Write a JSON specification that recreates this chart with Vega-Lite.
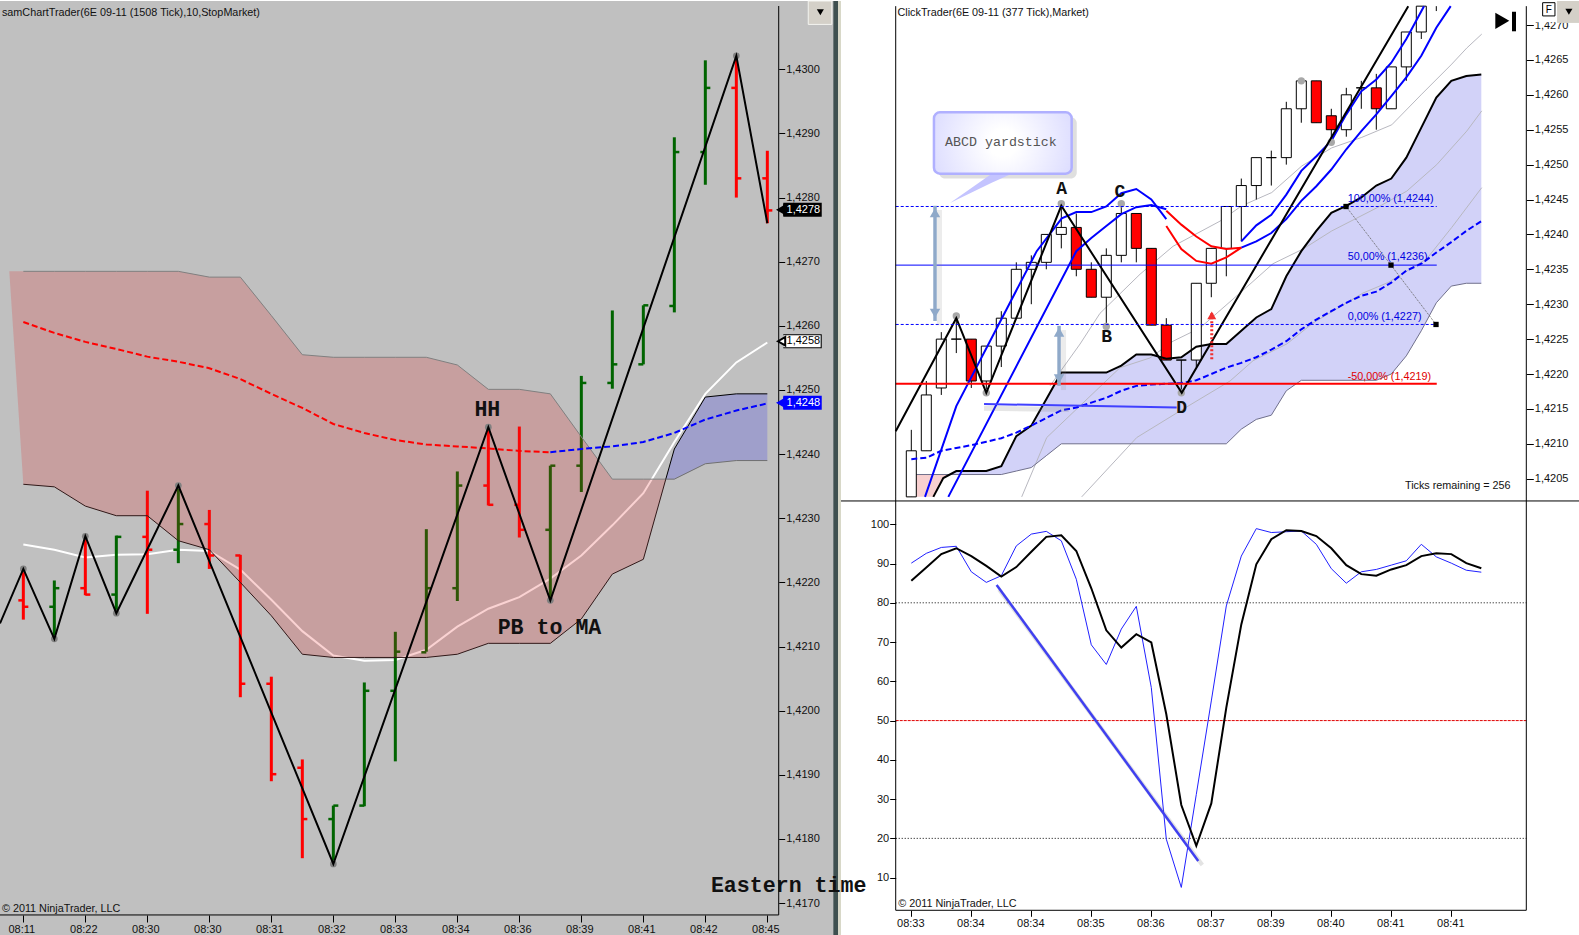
{"$schema":"https://vega.github.io/schema/vega-lite/v6.json","padding":{"left":-4,"top":0,"right":0,"bottom":0},"background":"white","spacing":0,"bounds":"flush","resolve":{"scale":{"color":"independent"}},
"config":{"view":{"stroke":null},"axis":{"grid":false,"domain":false,"labelFont":"Liberation Sans","labelFontSize":11,"labelColor":"#111","tickColor":"#000","title":null},"text":{"font":"Liberation Sans","fontSize":10.8,"align":"left","baseline":"middle"}},
"datasets":{
"lbars":[{"i":1,"o":1.42172,"h":1.42221,"l":1.42142,"c":1.42162,"d":"down"},{"i":2,"o":1.42162,"h":1.42203,"l":1.42112,"c":1.42191,"d":"up"},{"i":3,"o":1.42191,"h":1.42272,"l":1.4218,"c":1.42181,"d":"down"},{"i":4,"o":1.42181,"h":1.42273,"l":1.42152,"c":1.42271,"d":"up"},{"i":5,"o":1.42271,"h":1.42343,"l":1.42151,"c":1.42251,"d":"down"},{"i":6,"o":1.42251,"h":1.42351,"l":1.4223,"c":1.42291,"d":"up"},{"i":7,"o":1.42291,"h":1.42313,"l":1.42221,"c":1.42242,"d":"down"},{"i":8,"o":1.42242,"h":1.42243,"l":1.42021,"c":1.42042,"d":"down"},{"i":9,"o":1.42042,"h":1.42053,"l":1.4189,"c":1.41901,"d":"down"},{"i":10,"o":1.41911,"h":1.41924,"l":1.4177,"c":1.41831,"d":"down"},{"i":11,"o":1.41831,"h":1.41852,"l":1.41761,"c":1.41852,"d":"up"},{"i":12,"o":1.41852,"h":1.42044,"l":1.41851,"c":1.42031,"d":"up"},{"i":13,"o":1.42031,"h":1.42123,"l":1.41921,"c":1.42092,"d":"up"},{"i":14,"o":1.42091,"h":1.42283,"l":1.42092,"c":1.42191,"d":"up"},{"i":15,"o":1.42191,"h":1.42373,"l":1.42171,"c":1.42351,"d":"up"},{"i":16,"o":1.42351,"h":1.42442,"l":1.4232,"c":1.42321,"d":"down"},{"i":17,"o":1.42321,"h":1.42443,"l":1.4227,"c":1.42282,"d":"down"},{"i":18,"o":1.42282,"h":1.42382,"l":1.42172,"c":1.42382,"d":"up"},{"i":19,"o":1.42382,"h":1.42522,"l":1.42341,"c":1.42511,"d":"up"},{"i":20,"o":1.42511,"h":1.42624,"l":1.42502,"c":1.4254,"d":"up"},{"i":21,"o":1.4254,"h":1.42632,"l":1.4254,"c":1.42632,"d":"up"},{"i":22,"o":1.42631,"h":1.42894,"l":1.42621,"c":1.42871,"d":"up"},{"i":23,"o":1.42871,"h":1.43014,"l":1.4282,"c":1.42971,"d":"up"},{"i":24,"o":1.42971,"h":1.43021,"l":1.428,"c":1.4283,"d":"down"},{"i":25,"o":1.4283,"h":1.42873,"l":1.4276,"c":1.4278,"d":"down"}],
"lcloud":[{"i":0.547,"a":1.42685,"b":1.42685},{"i":1,"a":1.42685,"b":1.42353},{"i":2,"a":1.42685,"b":1.42349},{"i":3,"a":1.42685,"b":1.42319},{"i":4,"a":1.42685,"b":1.42304},{"i":5,"a":1.42685,"b":1.42304},{"i":6,"a":1.42685,"b":1.42265},{"i":7,"a":1.42676,"b":1.42251},{"i":8,"a":1.42676,"b":1.422},{"i":9,"a":1.42616,"b":1.42148},{"i":10,"a":1.42555,"b":1.42088},{"i":11,"a":1.42551,"b":1.42083},{"i":12,"a":1.42551,"b":1.42083},{"i":13,"a":1.42551,"b":1.42083},{"i":14,"a":1.42551,"b":1.42083},{"i":15,"a":1.42539,"b":1.42088},{"i":16,"a":1.42501,"b":1.42105},{"i":17,"a":1.42501,"b":1.42105},{"i":18,"a":1.42494,"b":1.42105},{"i":19,"a":1.42427,"b":1.42143},{"i":20,"a":1.42361,"b":1.42213},{"i":21,"a":1.42361,"b":1.42236},{"i":21.725,"a":1.42361,"b":1.42361}],
"lcloud2":[{"i":21.725,"a":1.42361,"b":1.42361},{"i":22,"a":1.42408,"b":1.42361},{"i":23,"a":1.42489,"b":1.42385},{"i":24,"a":1.42494,"b":1.4239},{"i":25,"a":1.42494,"b":1.4239}],
"lred":[{"i":1,"p":1.42606},{"i":2,"p":1.42589},{"i":3,"p":1.42575},{"i":4,"p":1.42564},{"i":5,"p":1.42552},{"i":6,"p":1.42544},{"i":7,"p":1.42534},{"i":8,"p":1.42517},{"i":9,"p":1.42494},{"i":10,"p":1.42472},{"i":11,"p":1.42447},{"i":12,"p":1.42433},{"i":13,"p":1.42422},{"i":14,"p":1.42415},{"i":15,"p":1.42412},{"i":16,"p":1.42409},{"i":17,"p":1.42405},{"i":18,"p":1.42403}],
"lblue":[{"i":18,"p":1.42403},{"i":19,"p":1.42408},{"i":20,"p":1.42412},{"i":21,"p":1.42419},{"i":22,"p":1.42433},{"i":23,"p":1.42454},{"i":24,"p":1.42468},{"i":25,"p":1.42479}],
"lwhite":[{"i":1,"p":1.42259},{"i":2,"p":1.42251},{"i":3,"p":1.42239},{"i":4,"p":1.42243},{"i":5,"p":1.42244},{"i":6,"p":1.42251},{"i":7,"p":1.42249},{"i":8,"p":1.4222},{"i":9,"p":1.42173},{"i":10,"p":1.42124},{"i":11,"p":1.42086},{"i":12,"p":1.42078},{"i":13,"p":1.42079},{"i":14,"p":1.42095},{"i":15,"p":1.42131},{"i":16,"p":1.42159},{"i":17,"p":1.42177},{"i":18,"p":1.42206},{"i":19,"p":1.42242},{"i":20,"p":1.42289},{"i":21,"p":1.42339},{"i":22,"p":1.42419},{"i":23,"p":1.42494},{"i":24,"p":1.42543},{"i":25,"p":1.42574}],
"lzig":[{"i":0.2474,"p":1.42136},{"i":1,"p":1.42221},{"i":2,"p":1.42112},{"i":3,"p":1.42272},{"i":4,"p":1.42152},{"i":6,"p":1.42351},{"i":11,"p":1.41761},{"i":16,"p":1.42442},{"i":18,"p":1.42172},{"i":24,"p":1.43021},{"i":25,"p":1.4276}],
"lflags":[{"p":1.42781,"t":"1,4278","s":"last","a":25.515,"b":26.755,"c":26.72,"d":25.46,"e":25.62},{"p":1.42576,"t":"1,4258","s":"ma","a":25.515,"b":26.755,"c":26.72,"d":25.46,"e":25.62},{"p":1.4248,"t":"1,4248","s":"mid","a":25.515,"b":26.755,"c":26.72,"d":25.46,"e":25.62}],
"cand":[{"j":1,"o":1.42024,"h":1.4212,"l":1.42024,"c":1.4209,"d":"up"},{"j":2,"o":1.4209,"h":1.4219,"l":1.4209,"c":1.4217,"d":"up"},{"j":3,"o":1.4218,"h":1.4226,"l":1.4217,"c":1.4225,"d":"up"},{"j":4,"o":1.4225,"h":1.4228,"l":1.4223,"c":1.4225,"d":"up"},{"j":5,"o":1.4225,"h":1.4225,"l":1.4218,"c":1.4219,"d":"down"},{"j":6,"o":1.4219,"h":1.4224,"l":1.4217,"c":1.4224,"d":"up"},{"j":7,"o":1.4224,"h":1.4229,"l":1.4221,"c":1.4228,"d":"up"},{"j":8,"o":1.4228,"h":1.4236,"l":1.4228,"c":1.4235,"d":"up"},{"j":9,"o":1.4235,"h":1.4237,"l":1.423,"c":1.4236,"d":"up"},{"j":10,"o":1.4236,"h":1.424,"l":1.4235,"c":1.424,"d":"up"},{"j":11,"o":1.424,"h":1.4244,"l":1.4238,"c":1.4241,"d":"up"},{"j":12,"o":1.4241,"h":1.4243,"l":1.4234,"c":1.4235,"d":"down"},{"j":13,"o":1.4235,"h":1.4236,"l":1.4231,"c":1.4231,"d":"down"},{"j":14,"o":1.4231,"h":1.4238,"l":1.4227,"c":1.4237,"d":"up"},{"j":15,"o":1.4237,"h":1.4244,"l":1.4236,"c":1.4243,"d":"up"},{"j":16,"o":1.4243,"h":1.4243,"l":1.4236,"c":1.4238,"d":"down"},{"j":17,"o":1.4238,"h":1.4238,"l":1.4227,"c":1.4227,"d":"down"},{"j":18,"o":1.4227,"h":1.4228,"l":1.4222,"c":1.4222,"d":"down"},{"j":19,"o":1.4222,"h":1.4222,"l":1.4217,"c":1.4222,"d":"up"},{"j":20,"o":1.4222,"h":1.4233,"l":1.4221,"c":1.4233,"d":"up"},{"j":21,"o":1.4233,"h":1.4238,"l":1.4231,"c":1.4238,"d":"up"},{"j":22,"o":1.4238,"h":1.4244,"l":1.4234,"c":1.4244,"d":"up"},{"j":23,"o":1.4244,"h":1.4248,"l":1.4239,"c":1.4247,"d":"up"},{"j":24,"o":1.4247,"h":1.4251,"l":1.4245,"c":1.4251,"d":"up"},{"j":25,"o":1.4251,"h":1.4252,"l":1.4247,"c":1.4251,"d":"up"},{"j":26,"o":1.4251,"h":1.4259,"l":1.425,"c":1.4258,"d":"up"},{"j":27,"o":1.4258,"h":1.4262,"l":1.4256,"c":1.4262,"d":"up"},{"j":28,"o":1.4262,"h":1.4262,"l":1.4256,"c":1.4256,"d":"down"},{"j":29,"o":1.4257,"h":1.4258,"l":1.4253,"c":1.4255,"d":"down"},{"j":30,"o":1.4255,"h":1.4261,"l":1.4254,"c":1.426,"d":"up"},{"j":31,"o":1.4261,"h":1.4262,"l":1.4258,"c":1.4261,"d":"up"},{"j":32,"o":1.4261,"h":1.4263,"l":1.4255,"c":1.4258,"d":"down"},{"j":33,"o":1.4258,"h":1.4264,"l":1.4258,"c":1.4264,"d":"up"},{"j":34,"o":1.4264,"h":1.4269,"l":1.4262,"c":1.4269,"d":"up"},{"j":35,"o":1.4269,"h":1.42727,"l":1.4268,"c":1.42727,"d":"up"},{"j":36,"h":1.42727,"l":1.4272,"d":"up"}],
"band":[{"j":3.6,"a":1.42056,"b":1.42056},{"j":4,"a":1.42061,"b":1.42056},{"j":5,"a":1.42061,"b":1.42056},{"j":6,"a":1.42061,"b":1.42056},{"j":7,"a":1.42068,"b":1.42056},{"j":8,"a":1.42111,"b":1.42061},{"j":9,"a":1.42126,"b":1.42066},{"j":10,"a":1.42164,"b":1.42083},{"j":11,"a":1.42202,"b":1.421},{"j":12,"a":1.42202,"b":1.421},{"j":13,"a":1.42202,"b":1.421},{"j":14,"a":1.42202,"b":1.421},{"j":15,"a":1.42212,"b":1.421},{"j":16,"a":1.42228,"b":1.421},{"j":17,"a":1.42228,"b":1.421},{"j":18,"a":1.42222,"b":1.421},{"j":19,"a":1.42224,"b":1.421},{"j":20,"a":1.42239,"b":1.421},{"j":21,"a":1.42243,"b":1.421},{"j":22,"a":1.42243,"b":1.421},{"j":23,"a":1.42262,"b":1.42121},{"j":24,"a":1.42281,"b":1.42135},{"j":25,"a":1.42293,"b":1.42141},{"j":26,"a":1.4234,"b":1.42176},{"j":27,"a":1.42376,"b":1.42191},{"j":28,"a":1.42405,"b":1.42191},{"j":29,"a":1.42431,"b":1.42191},{"j":30,"a":1.42441,"b":1.42191},{"j":31,"a":1.42453,"b":1.42191},{"j":32,"a":1.4247,"b":1.42191},{"j":33,"a":1.4248,"b":1.422},{"j":34,"a":1.4251,"b":1.42226},{"j":35,"a":1.42553,"b":1.42262},{"j":36,"a":1.42596,"b":1.42302},{"j":37,"a":1.4262,"b":1.42326},{"j":38,"a":1.42627,"b":1.4233},{"j":39,"a":1.42629,"b":1.4233}],
"pink":[{"j":0.693,"a":1.42056,"b":1.42024},{"j":2.467,"a":1.42056,"b":1.42024},{"j":3.133,"a":1.42056,"b":1.42051},{"j":3.6,"a":1.42056,"b":1.42056}],
"envTop":[{"j":2.467,"p":1.42024},{"j":3.133,"p":1.42051},{"j":4,"p":1.42061},{"j":5,"p":1.42061},{"j":6,"p":1.42061},{"j":7,"p":1.42068},{"j":8,"p":1.42111},{"j":9,"p":1.42126},{"j":10,"p":1.42164},{"j":11,"p":1.42202},{"j":14,"p":1.42202},{"j":15,"p":1.42212},{"j":16,"p":1.42228},{"j":17,"p":1.42228},{"j":18,"p":1.42222},{"j":19,"p":1.42224},{"j":20,"p":1.42239},{"j":21,"p":1.42243},{"j":22,"p":1.42243},{"j":23,"p":1.42262},{"j":24,"p":1.42281},{"j":25,"p":1.42293},{"j":26,"p":1.4234},{"j":27,"p":1.42376},{"j":28,"p":1.42405},{"j":29,"p":1.42431},{"j":30,"p":1.42441},{"j":31,"p":1.42453},{"j":32,"p":1.4247},{"j":33,"p":1.4248},{"j":34,"p":1.4251},{"j":35,"p":1.42553},{"j":36,"p":1.42596},{"j":37,"p":1.4262},{"j":38,"p":1.42627},{"j":39,"p":1.42629}],
"envBot":[{"j":1,"p":1.42056},{"j":7,"p":1.42056},{"j":8,"p":1.42061},{"j":9,"p":1.42066},{"j":10,"p":1.42083},{"j":11,"p":1.421},{"j":22,"p":1.421},{"j":23,"p":1.42121},{"j":24,"p":1.42135},{"j":25,"p":1.42141},{"j":26,"p":1.42176},{"j":27,"p":1.42191},{"j":32,"p":1.42191},{"j":33,"p":1.422},{"j":34,"p":1.42226},{"j":35,"p":1.42262},{"j":36,"p":1.42302},{"j":37,"p":1.42326},{"j":38,"p":1.4233},{"j":39,"p":1.4233}],
"mid":[{"j":1,"p":1.42078},{"j":2,"p":1.4208},{"j":3,"p":1.4209},{"j":4,"p":1.42094},{"j":5,"p":1.42098},{"j":6,"p":1.42103},{"j":7,"p":1.42108},{"j":8,"p":1.42116},{"j":9,"p":1.42126},{"j":10,"p":1.42137},{"j":11,"p":1.42148},{"j":12,"p":1.42152},{"j":13,"p":1.42159},{"j":14,"p":1.42166},{"j":15,"p":1.42176},{"j":16,"p":1.42183},{"j":17,"p":1.42185},{"j":18,"p":1.42186},{"j":19,"p":1.42187},{"j":20,"p":1.42191},{"j":21,"p":1.422},{"j":22,"p":1.42209},{"j":23,"p":1.42216},{"j":24,"p":1.42224},{"j":25,"p":1.42235},{"j":26,"p":1.42247},{"j":27,"p":1.42264},{"j":28,"p":1.42278},{"j":29,"p":1.4229},{"j":30,"p":1.42302},{"j":31,"p":1.42312},{"j":32,"p":1.42318},{"j":33,"p":1.42331},{"j":34,"p":1.42348},{"j":35,"p":1.42358},{"j":36,"p":1.42374},{"j":37,"p":1.42389},{"j":38,"p":1.42405},{"j":39,"p":1.42419}],
"blueLines":[{"k":"a1","j":1.913,"p":1.42024},{"k":"a1","j":4,"p":1.42154},{"k":"a1","j":9.36,"p":1.42376},{"k":"a1","j":11.03,"p":1.42423},{"k":"a1","j":12,"p":1.42432},{"k":"a1","j":13,"p":1.42432},{"k":"a1","j":14,"p":1.4244},{"k":"a1","j":15,"p":1.42459},{"k":"a1","j":16,"p":1.42465},{"k":"a1","j":17,"p":1.4245},{"k":"a1","j":18,"p":1.42422},{"k":"b1","j":3.467,"p":1.42024},{"k":"b1","j":12,"p":1.42376},{"k":"b1","j":13,"p":1.42395},{"k":"b1","j":14,"p":1.42412},{"k":"b1","j":15,"p":1.42429},{"k":"b1","j":16,"p":1.42439},{"k":"b1","j":17,"p":1.42442},{"k":"b1","j":18,"p":1.42436},{"k":"a2","j":23,"p":1.4239},{"k":"a2","j":24,"p":1.42413},{"k":"a2","j":25,"p":1.42428},{"k":"a2","j":26,"p":1.42457},{"k":"a2","j":27,"p":1.42491},{"k":"a2","j":28,"p":1.42512},{"k":"a2","j":29,"p":1.42534},{"k":"a2","j":30,"p":1.42572},{"k":"a2","j":31,"p":1.42605},{"k":"a2","j":32,"p":1.42622},{"k":"a2","j":33,"p":1.42646},{"k":"a2","j":34,"p":1.4268},{"k":"a2","j":35.18,"p":1.42727},{"k":"b2","j":23,"p":1.42381},{"k":"b2","j":24,"p":1.4239},{"k":"b2","j":25,"p":1.42402},{"k":"b2","j":26,"p":1.42422},{"k":"b2","j":27,"p":1.42448},{"k":"b2","j":28,"p":1.42469},{"k":"b2","j":29,"p":1.42493},{"k":"b2","j":30,"p":1.42522},{"k":"b2","j":31,"p":1.42548},{"k":"b2","j":32,"p":1.42572},{"k":"b2","j":33,"p":1.42598},{"k":"b2","j":34,"p":1.42625},{"k":"b2","j":35,"p":1.42656},{"k":"b2","j":36,"p":1.42696},{"k":"b2","j":36.96,"p":1.42727}],
"redLines":[{"k":"r1","j":18,"p":1.42434},{"k":"r1","j":19,"p":1.42414},{"k":"r1","j":20,"p":1.42397},{"k":"r1","j":21,"p":1.42383},{"k":"r1","j":22,"p":1.42379},{"k":"r1","j":23,"p":1.42381},{"k":"r2","j":18,"p":1.42412},{"k":"r2","j":19,"p":1.42379},{"k":"r2","j":20,"p":1.42362},{"k":"r2","j":21,"p":1.42358},{"k":"r2","j":22,"p":1.42367},{"k":"r2","j":23,"p":1.42381}],
"grayLines":[{"k":"g1","j":10.25,"p":1.42183},{"k":"g1","j":12.25,"p":1.42243},{"k":"g1","j":13.58,"p":1.42287},{"k":"g1","j":16.25,"p":1.42343},{"k":"g1","j":18.45,"p":1.42383},{"k":"g1","j":21.58,"p":1.42419},{"k":"g1","j":23.03,"p":1.42441},{"k":"g1","j":25.03,"p":1.4246},{"k":"g1","j":27.03,"p":1.42498},{"k":"g1","j":29.03,"p":1.42524},{"k":"g1","j":31.03,"p":1.42539},{"k":"g1","j":33.03,"p":1.42557},{"k":"g1","j":35.03,"p":1.42601},{"k":"g1","j":37.03,"p":1.42644},{"k":"g1","j":38.03,"p":1.42667},{"k":"g1","j":39.03,"p":1.42687},{"k":"g2","j":8.36,"p":1.42024},{"k":"g2","j":10.03,"p":1.42109},{"k":"g2","j":14.91,"p":1.42209},{"k":"g2","j":16.91,"p":1.42223},{"k":"g2","j":18.45,"p":1.42247},{"k":"g2","j":20.25,"p":1.42266},{"k":"g2","j":22.91,"p":1.42316},{"k":"g2","j":25.11,"p":1.42358},{"k":"g2","j":27.11,"p":1.42379},{"k":"g2","j":29.03,"p":1.42405},{"k":"g2","j":32.03,"p":1.42438},{"k":"g2","j":34.03,"p":1.42462},{"k":"g2","j":36.03,"p":1.425},{"k":"g2","j":38.03,"p":1.42548},{"k":"g2","j":39.03,"p":1.42577},{"k":"g3","j":12.36,"p":1.42024},{"k":"g3","j":16.03,"p":1.42109},{"k":"g3","j":18.91,"p":1.42147},{"k":"g3","j":22.25,"p":1.4219},{"k":"g3","j":23.78,"p":1.42219},{"k":"g3","j":26.03,"p":1.42243},{"k":"g3","j":27.78,"p":1.42273},{"k":"g3","j":31.11,"p":1.42316},{"k":"g3","j":32.78,"p":1.42331},{"k":"g3","j":35.36,"p":1.42365},{"k":"g3","j":37.03,"p":1.4241},{"k":"g3","j":39.03,"p":1.42467}],
"rzig":[{"j":-0.04,"p":1.42118},{"j":4,"p":1.4228},{"j":6,"p":1.42173},{"j":11,"p":1.42441},{"j":19.03,"p":1.42173},{"j":34.13,"p":1.42727}],
"rdots":[{"j":4,"p":1.42283},{"j":6,"p":1.42173},{"j":11,"p":1.42444},{"j":14,"p":1.42268},{"j":15,"p":1.42444},{"j":19,"p":1.42173},{"j":27,"p":1.4262},{"j":29,"p":1.42532}],
"levels":[{"p":1.4244,"t":"100,00% (1,4244)","tp":1.42451,"j":-0.04,"j2":36.03,"tj":30.09,"s":"dash"},{"p":1.42356,"t":"50,00% (1,4236)","tp":1.42367,"j":-0.04,"j2":36.03,"tj":30.09,"s":"solid"},{"p":1.42271,"t":"0,00% (1,4227)","tp":1.42282,"j":-0.04,"j2":36.03,"tj":30.09,"s":"dash"}],
"squares":[{"j":29.98,"p":1.4244},{"j":32.98,"p":1.42356},{"j":35.98,"p":1.42271}],
"stochK":[{"j":1,"v":90.1},{"j":2,"v":92.6},{"j":3,"v":94.1},{"j":4,"v":94.4},{"j":5,"v":87.9},{"j":6,"v":85.2},{"j":7,"v":86.9},{"j":8,"v":94.5},{"j":9,"v":97.5},{"j":10,"v":98.2},{"j":11,"v":95.8},{"j":12,"v":86},{"j":13,"v":69.3},{"j":14,"v":64.3},{"j":15,"v":73.3},{"j":16,"v":79.1},{"j":17,"v":58.4},{"j":18,"v":19.8},{"j":19,"v":7.5},{"j":20,"v":31.2},{"j":21,"v":55},{"j":22,"v":79.2},{"j":23,"v":91.9},{"j":24,"v":98.9},{"j":25,"v":97.9},{"j":26,"v":98.1},{"j":27,"v":98.3},{"j":28,"v":94.9},{"j":29,"v":88.7},{"j":30,"v":85},{"j":31,"v":87.9},{"j":32,"v":88.5},{"j":33,"v":89.6},{"j":34,"v":90.7},{"j":35,"v":94.9},{"j":36,"v":91.7},{"j":37,"v":90.1},{"j":38,"v":88.3},{"j":39,"v":87.8}],
"stochD":[{"j":1,"v":85.6},{"j":2,"v":89},{"j":3,"v":92.4},{"j":4,"v":93.9},{"j":5,"v":91.9},{"j":6,"v":89.4},{"j":7,"v":86.7},{"j":8,"v":89.1},{"j":9,"v":93},{"j":10,"v":96.8},{"j":11,"v":97.2},{"j":12,"v":93.2},{"j":13,"v":83.7},{"j":14,"v":73},{"j":15,"v":68.6},{"j":16,"v":72},{"j":17,"v":69.9},{"j":18,"v":51.6},{"j":19,"v":28.5},{"j":20,"v":18.1},{"j":21,"v":28.9},{"j":22,"v":53.3},{"j":23,"v":74.5},{"j":24,"v":89.8},{"j":25,"v":96.2},{"j":26,"v":98.5},{"j":27,"v":98.3},{"j":28,"v":97},{"j":29,"v":93.9},{"j":30,"v":89.6},{"j":31,"v":87.3},{"j":32,"v":86.9},{"j":33,"v":88.5},{"j":34,"v":89.6},{"j":35,"v":91.9},{"j":36,"v":92.6},{"j":37,"v":92.4},{"j":38,"v":90.1},{"j":39,"v":88.8}]
},
"hconcat":[
{"width":841,"height":935,"view":{"fill":"#c0c0c0","stroke":null},
"encoding":{"x":{"field":"i","type":"quantitative","title":null,"scale":{"domain":[0.2474,27.3764],"nice":false,"zero":false},"axis":{"orient":"bottom","offset":-21,"tickSize":7,"labelPadding":1,"labelOffset":-2,"values":[1,3,5,7,9,11,13,15,17,19,21,23,25],"labelExpr":"['08:11','08:22','08:30','08:30','08:31','08:32','08:33','08:34','08:36','08:39','08:41','08:42','08:45'][(datum.value-1)/2]"}},
"y":{"field":"p","type":"quantitative","title":null,"scale":{"domain":[1.416487,1.431065],"nice":false,"zero":false},"axis":{"orient":"right","offset":-62.3,"tickSize":6,"labelPadding":1,"values":[1.417,1.418,1.419,1.42,1.421,1.422,1.423,1.424,1.425,1.426,1.427,1.428,1.429,1.43],"labelExpr":"replace(format(datum.value,'.4f'),'.',',')"}}},
"layer":[
{"data":{"values":[{"i":27.13,"i2":27.28,"p":1.416487,"p2":1.431065,"s":"dark"},{"i":27.28,"i2":27.3764,"p":1.416487,"p2":1.431065,"s":"light"}]},"mark":{"type":"rect"},"encoding":{"x2":{"field":"i2"},"y2":{"field":"p2"},"color":{"condition":{"test":"datum.s==='dark'","value":"#3f5050"},"value":"#d8d8c8"}}},
{"data":{"name":"lwhite"},"mark":{"type":"line","color":"#ffffff","strokeWidth":2}},
{"data":{"name":"lbars"},"mark":{"type":"rule","strokeWidth":3},"encoding":{"y":{"field":"h","type":"quantitative"},"y2":{"field":"l"},"color":{"field":"d","type":"nominal","scale":{"domain":["up","down"],"range":["#006400","#ff0000"]},"legend":null}}},
{"data":{"name":"lbars"},"mark":{"type":"rule","strokeWidth":2.5,"xOffset":-5,"x2Offset":0},"encoding":{"x2":{"field":"i"},"y":{"field":"o","type":"quantitative"},"color":{"field":"d","type":"nominal","legend":null}}},
{"data":{"name":"lbars"},"mark":{"type":"rule","strokeWidth":2.5,"xOffset":0,"x2Offset":5},"encoding":{"x2":{"field":"i"},"y":{"field":"c","type":"quantitative"},"color":{"field":"d","type":"nominal","legend":null}}},
{"data":{"name":"lcloud"},"mark":{"type":"area","color":"#e82020","opacity":0.2},"encoding":{"y":{"field":"a","type":"quantitative"},"y2":{"field":"b"}}},
{"data":{"name":"lcloud2"},"mark":{"type":"area","color":"#2020fc","opacity":0.2},"encoding":{"y":{"field":"a","type":"quantitative"},"y2":{"field":"b"}}},
{"data":{"name":"lcloud"},"transform":[{"filter":"datum.i>=1"}],"mark":{"type":"line","color":"#808080","strokeWidth":1},"encoding":{"y":{"field":"a","type":"quantitative"}}},
{"data":{"name":"lcloud"},"transform":[{"filter":"datum.i>=1"}],"mark":{"type":"line","color":"#301818","strokeWidth":1},"encoding":{"y":{"field":"b","type":"quantitative"}}},
{"data":{"name":"lcloud2"},"mark":{"type":"line","color":"#000000","strokeWidth":1},"encoding":{"y":{"field":"a","type":"quantitative"}}},
{"data":{"name":"lcloud2"},"mark":{"type":"line","color":"#707070","strokeWidth":1},"encoding":{"y":{"field":"b","type":"quantitative"}}},
{"data":{"name":"lred"},"mark":{"type":"line","color":"#ff0000","strokeWidth":2,"strokeDash":[6,3]}},
{"data":{"name":"lblue"},"mark":{"type":"line","color":"#0000ff","strokeWidth":2,"strokeDash":[6,3]}},
{"data":{"name":"lzig"},"transform":[{"filter":"datum.i>=1 && datum.i<25"}],"mark":{"type":"point","filled":true,"color":"#808080","size":45,"opacity":1}},
{"data":{"name":"lzig"},"mark":{"type":"line","color":"#000000","strokeWidth":2}},
{"data":{"values":[{"i":25.367,"p":1.430987,"p2":1.416815}]},"mark":{"type":"rule","color":"#000","strokeWidth":1},"encoding":{"y2":{"field":"p2"}}},
{"data":{"values":[{"i":0.2474,"i2":25.367,"p":1.416815}]},"mark":{"type":"rule","color":"#000","strokeWidth":1},"encoding":{"x2":{"field":"i2"}}},
{"data":{"name":"lflags"},"mark":{"type":"rule","strokeWidth":14},"encoding":{"x":{"field":"a","type":"quantitative"},"x2":{"field":"b"},"color":{"condition":{"test":"datum.s==='mid'","value":"#0000ff"},"value":"#000"}}},
{"data":{"name":"lflags"},"mark":{"type":"rule","strokeWidth":12},"encoding":{"x":{"field":"a","type":"quantitative"},"x2":{"field":"c"},"color":{"condition":[{"test":"datum.s==='mid'","value":"#0000ff"},{"test":"datum.s==='ma'","value":"#fff"}],"value":"#000"}}},
{"data":{"name":"lflags"},"mark":{"type":"point","shape":"triangle-left","filled":true,"size":70,"opacity":1},"encoding":{"x":{"field":"d","type":"quantitative"},"color":{"condition":[{"test":"datum.s==='mid'","value":"#0000ff"},{"test":"datum.s==='ma'","value":"#fff"}],"value":"#000"},"stroke":{"condition":{"test":"datum.s==='mid'","value":"#0000ff"},"value":"#000"}}},
{"data":{"name":"lflags"},"mark":{"type":"text","fontSize":11},"encoding":{"x":{"field":"e","type":"quantitative"},"text":{"field":"t"},"color":{"condition":{"test":"datum.s==='ma'","value":"#000"},"value":"#fff"}}},
{"data":{"values":[{"i":26.32,"i2":27.08,"p":1.431065,"p2":1.4307}]},"mark":{"type":"rect","color":"#d4d0c8","stroke":"#f4f4f0","strokeWidth":1},"encoding":{"x2":{"field":"i2"},"y2":{"field":"p2"}}},
{"data":{"values":[{"i":26.71,"p":1.43089}]},"mark":{"type":"point","shape":"triangle-down","filled":true,"color":"#000","size":50,"opacity":1}},
{"data":{"values":[{"i":0.31,"p":1.43088,"t":"samChartTrader(6E 09-11 (1508 Tick),10,StopMarket)"},{"i":0.31,"p":1.41691,"t":"© 2011 NinjaTrader, LLC"}]},"mark":{"type":"text","color":"#111"},"encoding":{"text":{"field":"t"}}},
{"data":{"values":[{"i":15.55,"p":1.42469,"t":"HH"},{"i":16.3,"p":1.42129,"t":"PB to MA"},{"i":23.18,"p":1.41726,"t":"Eastern time"}]},"mark":{"type":"text","font":"Liberation Mono","fontWeight":"bold","fontSize":21.6,"color":"#111"},"encoding":{"text":{"field":"t"}}}
]},
{"vconcat":[
{"width":738,"height":496,
"encoding":{"x":{"field":"j","type":"quantitative","title":null,"scale":{"domain":[-3.687,45.513],"nice":false,"zero":false,"padding":0},"axis":null},
"y":{"field":"p","type":"quantitative","title":null,"scale":{"domain":[1.420238,1.427344],"nice":false,"zero":false},"axis":{"orient":"right","offset":-52.7,"tickSize":7,"labelPadding":1,"values":[1.4205,1.421,1.4215,1.422,1.4225,1.423,1.4235,1.424,1.4245,1.425,1.4255,1.426,1.4265,1.427],"labelExpr":"replace(format(datum.value,'.4f'),'.',',')"}}},
"layer":[
{"data":{"name":"pink"},"mark":{"type":"area","color":"#f8d0d0"},"encoding":{"y":{"field":"a","type":"quantitative"},"y2":{"field":"b"}}},
{"data":{"name":"band"},"mark":{"type":"area","color":"#d2d2f8"},"encoding":{"y":{"field":"a","type":"quantitative"},"y2":{"field":"b"}}},
{"data":{"name":"grayLines"},"mark":{"type":"line","color":"#b8b8c0","strokeWidth":1},"encoding":{"detail":{"field":"k"}}},
{"data":{"name":"envBot"},"mark":{"type":"line","color":"#70708c","strokeWidth":1}},
{"data":{"name":"cand"},"mark":{"type":"rule","color":"#000","strokeWidth":1},"encoding":{"y":{"field":"h","type":"quantitative"},"y2":{"field":"l"}}},
{"data":{"name":"cand"},"transform":[{"filter":"isValid(datum.o)"}],"mark":{"type":"bar","size":10,"stroke":"#000","strokeWidth":1},"encoding":{"y":{"field":"o","type":"quantitative"},"y2":{"field":"c"},"color":{"field":"d","type":"nominal","scale":{"domain":["up","down"],"range":["#ffffff","#ff0000"]},"legend":null}}},
{"data":{"name":"envTop"},"mark":{"type":"line","color":"#000","strokeWidth":2}},
{"data":{"name":"mid"},"mark":{"type":"line","color":"#0000ff","strokeWidth":2,"strokeDash":[6,3]}},
{"data":{"name":"blueLines"},"mark":{"type":"line","color":"#0000ff","strokeWidth":2},"encoding":{"detail":{"field":"k"}}},
{"data":{"name":"redLines"},"mark":{"type":"line","color":"#ff0000","strokeWidth":2},"encoding":{"detail":{"field":"k"}}},
{"data":{"name":"rdots"},"mark":{"type":"point","filled":true,"color":"#a8a8a8","size":55,"opacity":1}},
{"data":{"name":"rzig"},"mark":{"type":"line","color":"#000","strokeWidth":2}},
{"data":{"name":"levels"},"transform":[{"filter":"datum.s==='dash'"}],"mark":{"type":"rule","color":"#0000ff","strokeWidth":1,"strokeDash":[3,2]},"encoding":{"x2":{"field":"j2"}}},
{"data":{"name":"levels"},"transform":[{"filter":"datum.s==='solid'"}],"mark":{"type":"rule","color":"#0000ff","strokeWidth":1},"encoding":{"x2":{"field":"j2"}}},
{"data":{"values":[{"j":-0.04,"j2":36.03,"p":1.42186}]},"mark":{"type":"rule","color":"#ff0000","strokeWidth":2},"encoding":{"x2":{"field":"j2"}}},
{"data":{"name":"levels"},"mark":{"type":"text","color":"#0000e0"},"encoding":{"x":{"field":"tj","type":"quantitative"},"y":{"field":"tp","type":"quantitative"},"text":{"field":"t"}}},
{"data":{"values":[{"j":30.09,"p":1.42196,"t":"-50,00% (1,4219)"}]},"mark":{"type":"text","color":"#e00000"},"encoding":{"text":{"field":"t"}}},
{"data":{"name":"squares"},"mark":{"type":"line","color":"#666","strokeWidth":1,"strokeDash":[1,1]}},
{"data":{"name":"squares"},"mark":{"type":"square","color":"#000","size":28,"opacity":1}},
{"data":{"values":[{"j":2.85,"j2":12.03,"p":1.42568,"p2":1.4248}]},"mark":{"type":"rect","color":"#808080","opacity":0.25,"cornerRadius":6},"encoding":{"x2":{"field":"j2"},"y2":{"field":"p2"}}},
{"data":{"values":[{"j":3.58,"a":1.42445,"b":1.42445},{"j":6.36,"a":1.42487,"b":1.42474},{"j":7.69,"a":1.42487,"b":1.42487}]},"mark":{"type":"area","color":"#c4c4ff"},"encoding":{"y":{"field":"a","type":"quantitative"},"y2":{"field":"b"}}},
{"data":{"values":[{"j":2.51,"j2":11.69,"p":1.42575,"p2":1.42487}]},"mark":{"type":"rect","cornerRadius":6,"stroke":"#b0b0ff","strokeWidth":2.5,"fill":{"gradient":"radial","x1":0.5,"y1":0.5,"x2":0.5,"y2":0.5,"r1":0.1,"r2":0.7,"stops":[{"offset":0,"color":"#ffffff"},{"offset":1,"color":"#d0d0ff"}]}},"encoding":{"x2":{"field":"j2"},"y2":{"field":"p2"}}},
{"data":{"values":[{"j":3.25,"p":1.42532,"t":"ABCD yardstick"}]},"mark":{"type":"text","font":"Liberation Mono","fontSize":13.3,"color":"#555"},"encoding":{"text":{"field":"t"}}},
{"data":{"values":[{"j":2.88,"p":1.42435,"p2":1.4227},{"j":11.15,"p":1.42263,"p2":1.42177}]},"mark":{"type":"rule","color":"#808080","strokeWidth":5,"opacity":0.15},"encoding":{"y2":{"field":"p2"}}},
{"data":{"values":[{"j":2.58,"p":1.42441,"p2":1.42276},{"j":10.85,"p":1.42269,"p2":1.42183}]},"mark":{"type":"rule","color":"#8fa9c9","strokeWidth":3.5},"encoding":{"y2":{"field":"p2"}}},
{"data":{"values":[{"j":2.58,"p":1.42431},{"j":10.85,"p":1.4226}]},"mark":{"type":"point","shape":"triangle-up","filled":true,"color":"#8fa9c9","size":110,"opacity":1}},
{"data":{"values":[{"j":2.58,"p":1.42287},{"j":10.85,"p":1.42193}]},"mark":{"type":"point","shape":"triangle-down","filled":true,"color":"#8fa9c9","size":110,"opacity":1}},
{"data":{"values":[{"j":21.03,"p":1.42221,"p2":1.42287}]},"mark":{"type":"rule","color":"#f03030","strokeWidth":3,"strokeDash":[2,2]},"encoding":{"y2":{"field":"p2"}}},
{"data":{"values":[{"j":21.03,"p":1.42284}]},"mark":{"type":"point","shape":"triangle-up","filled":true,"color":"#f03030","size":80,"opacity":1}},
{"data":{"values":[{"j":5.85,"p":1.42151},{"j":11.5,"p":1.42149}]},"mark":{"type":"line","color":"#808080","strokeWidth":5,"opacity":0.2}},
{"data":{"values":[{"j":5.85,"p":1.42157},{"j":18.69,"p":1.42152}]},"mark":{"type":"line","color":"#4040ff","strokeWidth":2}},
{"data":{"values":[{"j":11.03,"p":1.42465,"t":"A"},{"j":14.91,"p":1.42461,"t":"C"},{"j":14.03,"p":1.42253,"t":"B"},{"j":19.03,"p":1.42151,"t":"D"}]},"mark":{"type":"text","align":"center","font":"Liberation Mono","fontWeight":"bold","fontSize":18,"color":"#111"},"encoding":{"text":{"field":"t"}}},
{"data":{"values":[{"j":33.91,"p":1.4204,"t":"Ticks remaining = 256"},{"j":0.08,"p":1.42717,"t":"ClickTrader(6E 09-11 (377 Tick),Market)"}]},"mark":{"type":"text","color":"#111"},"encoding":{"text":{"field":"t"}}},
{"data":{"values":[{"j":-0.04,"p":1.42727,"p2":1.420238},{"j":42,"p":1.42727,"p2":1.420238}]},"mark":{"type":"rule","color":"#000","strokeWidth":1},"encoding":{"y2":{"field":"p2"}}},
{"data":{"values":[{"j":40.4,"p":1.42706}]},"mark":{"type":"point","shape":"triangle-right","filled":true,"color":"#000","size":260,"opacity":1}},
{"data":{"values":[{"j":41.18,"p":1.42719,"p2":1.42691}]},"mark":{"type":"rule","color":"#000","strokeWidth":4},"encoding":{"y2":{"field":"p2"}}},
{"data":{"values":[{"j":42.1,"j2":45.513,"p":1.427344,"p2":1.42704}]},"mark":{"type":"rect","color":"#fff"},"encoding":{"x2":{"field":"j2"},"y2":{"field":"p2"}}},
{"data":{"values":[{"j":43.09,"j2":43.91,"p":1.42732,"p2":1.42713}]},"mark":{"type":"rect","color":"#fff","stroke":"#000","strokeWidth":1},"encoding":{"x2":{"field":"j2"},"y2":{"field":"p2"}}},
{"data":{"values":[{"j":43.5,"p":1.42722,"t":"F"}]},"mark":{"type":"text","align":"center","fontSize":10,"color":"#000"},"encoding":{"text":{"field":"t"}}},
{"data":{"values":[{"j":44.05,"j2":45.513,"p":1.427344,"p2":1.42703}]},"mark":{"type":"rect","color":"#d4d0c8"},"encoding":{"x2":{"field":"j2"},"y2":{"field":"p2"}}},
{"data":{"values":[{"j":44.84,"p":1.42719}]},"mark":{"type":"point","shape":"triangle-down","filled":true,"color":"#000","size":50,"opacity":1}}
]},
{"width":738,"height":439,
"encoding":{"x":{"field":"j","type":"quantitative","title":null,"scale":{"domain":[-3.687,45.513],"nice":false,"zero":false},"axis":{"orient":"bottom","offset":-25.7,"tickSize":6,"labelPadding":1,"labelOffset":-1,"values":[1,5,9,13,17,21,25,29,33,37],"labelExpr":"['08:33','08:34','08:34','08:35','08:36','08:37','08:39','08:40','08:41','08:41'][(datum.value-1)/4]"}},
"y":{"field":"v","type":"quantitative","title":null,"scale":{"domain":[-4.87,106.95],"nice":false,"zero":false},"axis":{"orient":"left","offset":-54.7,"tickSize":6,"labelPadding":1,"values":[10,20,30,40,50,60,70,80,90,100]}}},
"layer":[
{"data":{"values":[{"j":-0.04,"j2":42,"v":80},{"j":-0.04,"j2":42,"v":20}]},"mark":{"type":"rule","color":"#000","strokeWidth":1,"strokeDash":[1,2]},"encoding":{"x2":{"field":"j2"}}},
{"data":{"values":[{"j":-0.04,"j2":42,"v":50}]},"mark":{"type":"rule","color":"#e00000","strokeWidth":1,"strokeDash":[3,1]},"encoding":{"x2":{"field":"j2"}}},
{"data":{"name":"stochK"},"mark":{"type":"line","color":"#2020ff","strokeWidth":1}},
{"data":{"name":"stochD"},"mark":{"type":"line","color":"#000","strokeWidth":2}},
{"data":{"values":[{"j":6.85,"v":83.4},{"j":20.4,"v":13.2}]},"mark":{"type":"line","color":"#808080","strokeWidth":4,"opacity":0.22}},
{"data":{"values":[{"j":6.69,"v":84.55},{"j":20.13,"v":14.26}]},"mark":{"type":"line","color":"#4040f0","strokeWidth":2.5}},
{"data":{"values":[{"j":-3.687,"j2":45.513,"v":105.94},{"j":-0.04,"j2":42,"v":1.68}]},"mark":{"type":"rule","color":"#000","strokeWidth":1},"encoding":{"x2":{"field":"j2"}}},
{"data":{"values":[{"j":-0.04,"v":106.95,"v2":1.68},{"j":42,"v":106.95,"v2":1.68}]},"mark":{"type":"rule","color":"#000","strokeWidth":1},"encoding":{"y2":{"field":"v2"}}},
{"data":{"values":[{"j":0.13,"v":3.2,"t":"© 2011 NinjaTrader, LLC"}]},"mark":{"type":"text","color":"#111"},"encoding":{"text":{"field":"t"}}}
]}
],"spacing":0,"bounds":"flush","resolve":{"scale":{"color":"independent"}}}
]}
